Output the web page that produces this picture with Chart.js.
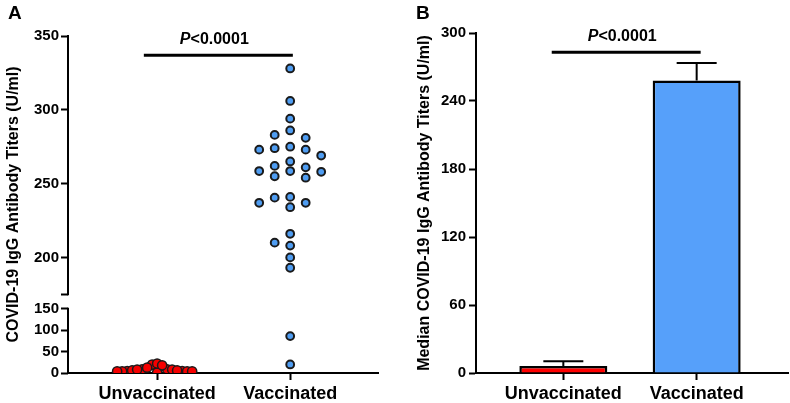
<!DOCTYPE html>
<html>
<head>
<meta charset="utf-8">
<script src="https://cdn.jsdelivr.net/npm/chart.js@4.4.1/dist/chart.umd.min.js"></script>
<style>
  html, body { margin: 0; padding: 0; background: #fff; }
  #wrap { position: relative; width: 790px; height: 403px; overflow: hidden; }
  .panel { position: absolute; top: 0; width: 395px; height: 403px; }
  #pA { left: 0; }
  #pB { left: 395px; }
  .tag { position: absolute; top: 2px; font: bold 19px "Liberation Sans", Arial, sans-serif; color: #000; }
</style>
</head>
<body>
<div id="wrap">
  <div class="panel" id="pA"><canvas id="chartA" width="395" height="403"></canvas></div>
  <div class="panel" id="pB"><canvas id="chartB" width="395" height="403"></canvas></div>
  <div class="tag" style="left:8px">A</div>
  <div class="tag" style="left:416px">B</div>
</div>
<script>
/* ── data ── */
var groups        = ['Unvaccinated', 'Vaccinated'];
var unvaccTiters  = [4.7, 19.5, 8.6, 8.6, 1, 12.5, 4.7, 4, 4, 4, 8, 22, 4, 6, 6, 8, 18];
var vaccTiters    = [328, 306, 294, 286, 283, 281, 275, 274, 273, 273, 269, 265, 262, 261,
                     258.5, 258, 258.5, 255, 254, 241, 240.5, 237, 237, 234, 216, 210, 208,
                     200, 193, 86, 20];
var leftTicks     = [0, 50, 100, 150, 200, 250, 300, 350];
var medianTiters  = [6.2, 258];
var medianErrTop  = [10.3, 273.5];
var rightTicks    = [0, 60, 120, 180, 240, 300];
var pText         = ['P', '<0.0001'];

var FONT = '"Liberation Sans", Arial, sans-serif';
var BREAK = { lo: 150, hi: 175, lowFrac: 0.191, gapFrac: 0.0425 };

/* ── y scale with a break between 150 and 175 ── */
class BrokenLinear extends Chart.LinearScale {
  getPixelForValue(v) {
    var h = this.bottom - this.top, b = this.bottom;
    var upFrac = 1 - BREAK.lowFrac - BREAK.gapFrac;
    if (v <= BREAK.lo) return b - (v - this.min) / (BREAK.lo - this.min) * BREAK.lowFrac * h;
    if (v >= BREAK.hi) return b - (BREAK.lowFrac + BREAK.gapFrac) * h - (v - BREAK.hi) / (this.max - BREAK.hi) * upFrac * h;
    return b - (BREAK.lowFrac + (v - BREAK.lo) / (BREAK.hi - BREAK.lo) * BREAK.gapFrac) * h;
  }
  getValueForPixel(p) {
    var h = this.bottom - this.top, f = (this.bottom - p) / h;
    var upFrac = 1 - BREAK.lowFrac - BREAK.gapFrac;
    if (f <= BREAK.lowFrac) return this.min + f / BREAK.lowFrac * (BREAK.lo - this.min);
    if (f >= BREAK.lowFrac + BREAK.gapFrac) return BREAK.hi + (f - BREAK.lowFrac - BREAK.gapFrac) / upFrac * (this.max - BREAK.hi);
    return BREAK.lo + (f - BREAK.lowFrac) / BREAK.gapFrac * (BREAK.hi - BREAK.lo);
  }
}
BrokenLinear.id = 'brokenLinear';
BrokenLinear.defaults = Chart.LinearScale.defaults;
Chart.register(BrokenLinear);

/* ── plugins ── */
var brokenAxisLine = {
  id: 'brokenAxisLine',
  beforeDatasetsDraw: function(c) {
    var y = c.scales.y, x0 = c.chartArea.left, ctx = c.ctx;
    ctx.save(); ctx.strokeStyle = '#000'; ctx.lineWidth = 2;
    [[y.min, BREAK.lo], [BREAK.hi, y.max]].forEach(function(s) {
      ctx.beginPath();
      ctx.moveTo(x0, y.getPixelForValue(s[0]) + 1);
      ctx.lineTo(x0, y.getPixelForValue(s[1]) - 1);
      ctx.stroke();
    });
    ctx.restore();
  }
};

var sigBar = {
  id: 'sigBar',
  afterDraw: function(c, args, o) {
    var xs = c.scales.x, ys = c.scales.y, ctx = c.ctx;
    var x1 = xs.getPixelForValue(o.x1), x2 = xs.getPixelForValue(o.x2), y = ys.getPixelForValue(o.y);
    ctx.save();
    ctx.strokeStyle = '#000'; ctx.lineWidth = 3;
    ctx.beginPath(); ctx.moveTo(x1, y); ctx.lineTo(x2, y); ctx.stroke();
    ctx.fillStyle = '#000'; ctx.textBaseline = 'alphabetic';
    ctx.font = 'italic bold 16px ' + FONT; var w1 = ctx.measureText(pText[0]).width;
    ctx.font = 'bold 16px ' + FONT;        var w2 = ctx.measureText(pText[1]).width;
    var sx = (x1 + x2) / 2 - (w1 + w2) / 2 + o.dx, by = y - 11;
    ctx.font = 'italic bold 16px ' + FONT; ctx.fillText(pText[0], sx, by);
    ctx.font = 'bold 16px ' + FONT;        ctx.fillText(pText[1], sx + w1, by);
    ctx.restore();
  }
};

var errBars = {
  id: 'errBars',
  afterDatasetsDraw: function(c, args, o) {
    var ys = c.scales.y, ctx = c.ctx, meta = c.getDatasetMeta(0);
    ctx.save(); ctx.strokeStyle = '#000'; ctx.lineWidth = 2;
    meta.data.forEach(function(bar, i) {
      var top = ys.getPixelForValue(medianErrTop[i]);
      ctx.beginPath();
      ctx.moveTo(bar.x, bar.y); ctx.lineTo(bar.x, top);
      ctx.moveTo(bar.x - o.cap, top); ctx.lineTo(bar.x + o.cap, top);
      ctx.stroke();
    });
    ctx.restore();
  }
};

function tickFont(size) { return { family: FONT, size: size, weight: 'bold' }; }
function catLabel(v) { return groups[Math.round(v) - 1]; }
var catGrid = { drawOnChartArea: false, offset: false, tickLength: 7, tickWidth: 2, tickColor: '#000' };

/* ── panel A: scatter on broken axis ── */
var chartA = new Chart(document.getElementById('chartA'), {
  type: 'scatter',
  data: {
    datasets: [
      { data: unvaccTiters.map(function(v) { return { x: 1, y: v }; }),
        backgroundColor: '#f50000', borderColor: '#1a1a1a', borderWidth: 1.5, pointRadius: 4.6 },
      { data: vaccTiters.map(function(v) { return { x: 2, y: v }; }),
        backgroundColor: '#4f9df2', borderColor: '#1a1a1a', borderWidth: 2, pointRadius: 3.9 }
    ]
  },
  plugins: [brokenAxisLine, sigBar],
  options: {
    responsive: false, animation: false, events: [],
    layout: { padding: { top: 36, right: 17, bottom: 0, left: 0 } },
    plugins: {
      legend: { display: false }, tooltip: { enabled: false },
      sigBar: { x1: 0.9, x2: 2.02, y: 337, dx: -4 }
    },
    scales: {
      x: {
        type: 'linear', min: 0.33, max: 2.66,
        afterBuildTicks: function(s) { s.ticks = groups.map(function(g, i) { return { value: i + 1 }; }); },
        afterFit: function(s) { s.height = 30; },
        ticks: { color: '#000', font: tickFont(18), padding: 3, callback: catLabel, maxRotation: 0 },
        grid: catGrid,
        border: { display: true, color: '#000', width: 2 }
      },
      y: {
        type: 'brokenLinear', min: 0, max: 350,
        afterBuildTicks: function(s) {
          s.ticks = leftTicks.concat([BREAK.hi]).sort(function(a, b) { return a - b; })
                    .map(function(v) { return { value: v }; });
        },
        afterFit: function(s) { s.width = 68; },
        ticks: { color: '#000', font: tickFont(15), padding: 2,
                 callback: function(v) { return v === BREAK.hi ? '' : v; } },
        grid: { drawOnChartArea: false, tickLength: 7, tickWidth: 2, tickColor: '#000' },
        border: { display: false },
        title: { display: true, text: 'COVID-19 IgG Antibody Titers (U/ml)', color: '#000',
                 font: tickFont(16), padding: { top: 4, bottom: 0 } }
      }
    }
  }
});

/* beeswarm: spread each group sideways so points in one column do not overlap */
var MIN_GAP = 9, SLOT_PX = 15.5, MAX_HALF = 40;
function swarm(chart, values, center) {
  var xs = chart.scales.x, ys = chart.scales.y;
  var order = values.map(function(v, i) { return i; }).sort(function(a, b) { return values[b] - values[a]; });
  var cols = {}, slot = [];
  order.forEach(function(i) {
    var py = ys.getPixelForValue(values[i]);
    for (var k = 0; ; k++) {
      var s = k % 2 ? -(k + 1) / 2 : k / 2;
      var col = cols[s] || (cols[s] = []);
      if (col.every(function(q) { return Math.abs(q - py) >= MIN_GAP; })) { col.push(py); slot[i] = s; break; }
    }
  });
  var maxSlot = Math.max.apply(null, [1].concat(slot.map(Math.abs)));
  var step = Math.min(SLOT_PX, MAX_HALF / maxSlot);
  var cx = xs.getPixelForValue(center);
  return values.map(function(v, i) { return { x: xs.getValueForPixel(cx + slot[i] * step), y: v }; });
}
chartA.data.datasets[0].data = swarm(chartA, unvaccTiters, 1);
chartA.data.datasets[1].data = swarm(chartA, vaccTiters, 2);
chartA.update('none');

/* ── panel B: median bars with upper error ── */
new Chart(document.getElementById('chartB'), {
  type: 'bar',
  data: {
    datasets: [{
      data: medianTiters.map(function(v, i) { return { x: i + 1, y: v }; }),
      backgroundColor: ['#ff0000', '#56a0fa'],
      borderColor: '#000', borderWidth: 2.5, borderSkipped: 'start',
      categoryPercentage: 1, barPercentage: 0.66
    }]
  },
  plugins: [errBars, sigBar],
  options: {
    responsive: false, animation: false, events: [],
    layout: { padding: { top: 33, right: 2, bottom: 0, left: 0 } },
    plugins: {
      legend: { display: false }, tooltip: { enabled: false },
      errBars: { cap: 20 },
      sigBar: { x1: 0.913, x2: 2.03, y: 283, dx: -4 }
    },
    scales: {
      x: {
        type: 'linear', min: 0.345, max: 2.685, offset: false,
        afterBuildTicks: function(s) { s.ticks = groups.map(function(g, i) { return { value: i + 1 }; }); },
        afterFit: function(s) { s.height = 30; },
        ticks: { color: '#000', font: tickFont(18), padding: 3, callback: catLabel, maxRotation: 0 },
        grid: catGrid,
        border: { display: true, color: '#000', width: 2 }
      },
      y: {
        min: 0, max: 300,
        afterBuildTicks: function(s) { s.ticks = rightTicks.map(function(v) { return { value: v }; }); },
        afterFit: function(s) { s.width = 81; },
        ticks: { color: '#000', font: tickFont(15), padding: 3 },
        grid: { drawOnChartArea: false, tickLength: 7, tickWidth: 2, tickColor: '#000' },
        border: { display: true, color: '#000', width: 2 },
        title: { display: true, text: 'Median COVID-19 IgG Antibody Titers (U/ml)', color: '#000',
                 font: tickFont(16), padding: { top: 20, bottom: 0 } }
      }
    }
  }
});
</script>
</body>
</html>
